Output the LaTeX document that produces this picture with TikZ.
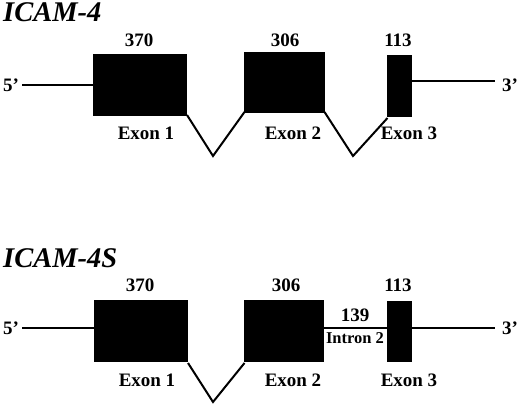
\documentclass[tikz,border=0pt]{standalone}
\usepackage{fontspec}
\setmainfont{Liberation Serif}
\begin{document}
\begin{tikzpicture}[x=1pt,y=-1pt,
  exon/.style={fill=black,draw=none,inner sep=0pt,outer sep=0pt},
  lbl/.style={font=\fontsize{19}{22}\selectfont\bfseries,inner sep=0pt,anchor=base},
  ilbl/.style={font=\fontsize{16.5}{19}\selectfont\bfseries,inner sep=0pt,anchor=base},
  ttl/.style={font=\fontsize{28.5}{32}\selectfont\bfseries\itshape,inner sep=0pt,anchor=base west},
  ln/.style={line width=2pt,line join=miter}]
\useasboundingbox (0,0) rectangle (520,406);
\fill[white] (0,0) rectangle (520,406);
% ---------- ICAM-4 ----------
\node[ttl] (t1) at (3,22) {ICAM-4};
\node[exon,minimum width=94pt,minimum height=62pt] (a1) at (140,85) {};
\node[exon,minimum width=81pt,minimum height=61pt] (a2) at (284.5,82.5) {};
\node[exon,minimum width=25pt,minimum height=62pt] (a3) at (399.5,86) {};
\node[lbl] (n1) at (139,47) {370};
\node[lbl] (n2) at (285,47) {306};
\node[lbl] (n3) at (398,47) {113};
\node[lbl] (x1) at (146,140) {Exon 1};
\node[lbl] (x2) at (293,140) {Exon 2};
\node[lbl] (x3) at (409,140) {Exon 3};
\node[lbl,anchor=base west] (p5a) at (3,92) {5’};
\node[lbl,anchor=base west] (p3a) at (502,92) {3’};
\coordinate (s5a) at (22,85);
\coordinate (s3a) at (495,81);
\coordinate (v1) at (213,156);
\coordinate (v2) at (353,156);
\draw[ln] (s5a) -- (a1.west|-s5a);
\draw[ln] (a3.east|-s3a) -- (s3a);
\draw[ln] ([yshift=1pt]a1.south east) -- (v1) -- ([xshift=0.5pt,yshift=1pt]a2.south west);
\draw[ln] ([xshift=-0.5pt,yshift=1pt]a2.south east) -- (v2) -- ([xshift=0.5pt,yshift=-1pt]a3.south west);
% ---------- ICAM-4S ----------
\node[ttl] (t2) at (3,268) {ICAM-4S};
\node[exon,minimum width=94pt,minimum height=62pt] (b1) at (141,331) {};
\node[exon,minimum width=80pt,minimum height=62pt] (b2) at (284,331) {};
\node[exon,minimum width=25pt,minimum height=61pt] (b3) at (399.5,331.5) {};
\node[lbl] (m1) at (140,292) {370};
\node[lbl] (m2) at (286,292) {306};
\node[lbl] (m3) at (398,292) {113};
\node[lbl] (y1) at (147,386) {Exon 1};
\node[lbl] (y2) at (293,386) {Exon 2};
\node[lbl] (y3) at (409,386) {Exon 3};
\node[lbl] (m4) at (355,322) {139};
\node[ilbl] (in2) at (355,344) {Intron 2};
\node[lbl,anchor=base west] (p5b) at (3,335) {5’};
\node[lbl,anchor=base west] (p3b) at (502,335) {3’};
\coordinate (s5b) at (22,328);
\coordinate (s3b) at (495,328);
\coordinate (w1) at (213,402);
\draw[ln] (s5b) -- (b1.west|-s5b);
\draw[ln] (b3.east|-s3b) -- (s3b);
\draw[ln] (b2.east|-s3b) -- (b3.west|-s3b);
\draw[ln] ([yshift=-1pt]b1.south east) -- (w1) -- ([xshift=0.5pt,yshift=-1pt]b2.south west);
\end{tikzpicture}
\end{document}
